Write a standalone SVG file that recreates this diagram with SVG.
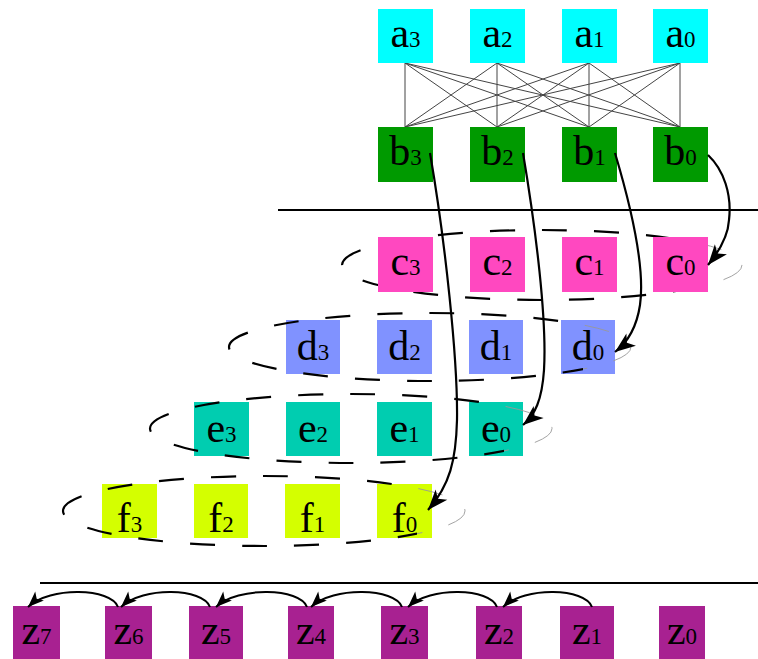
<svg xmlns="http://www.w3.org/2000/svg" width="758" height="659" viewBox="0 0 758 659">
  <style>
    .lbl { font-family: "Liberation Serif", "Times New Roman", serif; font-size: 42px; fill: #000; text-anchor: middle; }
    .sub { font-size: 23px; }
    .a { fill: #00ffff; }
    .b { fill: #009a00; }
    .c { fill: #ff48c0; }
    .d { fill: #8092ff; }
    .e { fill: #00cdb0; }
    .f { fill: #d4ff00; }
    .z { fill: #a82191; }
    .mesh { stroke: #444; stroke-width: 1; fill: none; }
    .rule { stroke: #000; stroke-width: 2; }
    .ring { fill: none; stroke-dasharray: 25 27; }
    .ring-near { stroke: #000; stroke-width: 2.2; }
    .ring-far { stroke: #999; stroke-width: 0.9; }
    .edge { fill: none; stroke: #000; stroke-width: 2.2; marker-end: url(#head); }
    .hop { fill: none; stroke: #000; stroke-width: 2; marker-end: url(#headSmall); }
  </style>
  <defs>
    <marker id="head" markerUnits="userSpaceOnUse" markerWidth="24" markerHeight="20" viewBox="-18 -8 20 16" refX="0" refY="0" orient="auto">
      <path d="M0,0 L-17,-6.5 L-12.5,0 L-17,6.5 Z" fill="#000"/>
    </marker>
    <marker id="headSmall" markerUnits="userSpaceOnUse" markerWidth="20" markerHeight="16" viewBox="-15 -7 17 14" refX="0" refY="0" orient="auto">
      <path d="M0,0 L-14,-5.5 L-10.5,0 L-14,5.5 Z" fill="#000"/>
    </marker>
    <clipPath id="nearC"><rect x="0" y="200" width="695" height="120"/></clipPath>
    <clipPath id="farC"><rect x="695" y="200" width="63" height="120"/></clipPath>
    <clipPath id="nearD"><rect x="0" y="300" width="583" height="100"/></clipPath>
    <clipPath id="farD"><rect x="583" y="300" width="175" height="100"/></clipPath>
    <clipPath id="nearE"><rect x="0" y="380" width="504" height="100"/></clipPath>
    <clipPath id="farE"><rect x="504" y="380" width="254" height="100"/></clipPath>
    <clipPath id="nearF"><rect x="0" y="460" width="417" height="100"/></clipPath>
    <clipPath id="farF"><rect x="417" y="460" width="341" height="100"/></clipPath>
    <path id="ringC" d="M342,265 A200,35 0 0 1 742,265 A200,35 0 0 1 342,265"/>
    <path id="ringD" d="M229,347 A201,34 0 0 1 631,347 A201,34 0 0 1 229,347"/>
    <path id="ringE" d="M150,428.5 A201,34.5 0 0 1 552,428.5 A201,34.5 0 0 1 150,428.5"/>
    <path id="ringF" d="M63,511 A201,35 0 0 1 465,511 A201,35 0 0 1 63,511"/>
  </defs>

  <rect width="758" height="659" fill="#fff"/>

  <!-- section rules -->
  <line class="rule" x1="278" y1="210" x2="758" y2="210"/>
  <line class="rule" x1="40" y1="583" x2="758" y2="583"/>

  <!-- full mesh between the a row and the b row -->
  <g id="mesh">
    <path class="mesh" d="M405,63 L405,127 M405,63 L497,127 M405,63 L589,127 M405,63 L680,127
      M497,63 L405,127 M497,63 L497,127 M497,63 L589,127 M497,63 L680,127
      M589,63 L405,127 M589,63 L497,127 M589,63 L589,127 M589,63 L680,127
      M680,63 L405,127 M680,63 L497,127 M680,63 L589,127 M680,63 L680,127"/>
  </g>

  <!-- ring around the c row sits behind its boxes -->
  <g id="ring-c">
    <use href="#ringC" class="ring ring-near" clip-path="url(#nearC)"/>
    <use href="#ringC" class="ring ring-far" clip-path="url(#farC)"/>
  </g>

  <g id="nodes">
    <g id="a3"><rect class="a" x="378" y="9" width="55" height="54"/><text class="lbl" x="405.5" y="47">a<tspan class="sub">3</tspan></text></g>
    <g id="a2"><rect class="a" x="470" y="9" width="55" height="54"/><text class="lbl" x="497.5" y="47">a<tspan class="sub">2</tspan></text></g>
    <g id="a1"><rect class="a" x="562" y="9" width="55" height="54"/><text class="lbl" x="589.5" y="47">a<tspan class="sub">1</tspan></text></g>
    <g id="a0"><rect class="a" x="653" y="9" width="55" height="54"/><text class="lbl" x="680.5" y="47">a<tspan class="sub">0</tspan></text></g>

    <g id="b3"><rect class="b" x="378" y="127" width="55" height="55"/><text class="lbl" x="405.5" y="165">b<tspan class="sub">3</tspan></text></g>
    <g id="b2"><rect class="b" x="470" y="127" width="55" height="55"/><text class="lbl" x="497.5" y="165">b<tspan class="sub">2</tspan></text></g>
    <g id="b1"><rect class="b" x="562" y="127" width="55" height="55"/><text class="lbl" x="589.5" y="165">b<tspan class="sub">1</tspan></text></g>
    <g id="b0"><rect class="b" x="653" y="127" width="55" height="55"/><text class="lbl" x="680.5" y="165">b<tspan class="sub">0</tspan></text></g>

    <g id="c3"><rect class="c" x="378" y="237" width="55" height="55"/><text class="lbl" x="405.5" y="275">c<tspan class="sub">3</tspan></text></g>
    <g id="c2"><rect class="c" x="470" y="237" width="55" height="55"/><text class="lbl" x="497.5" y="275">c<tspan class="sub">2</tspan></text></g>
    <g id="c1"><rect class="c" x="562" y="237" width="55" height="55"/><text class="lbl" x="589.5" y="275">c<tspan class="sub">1</tspan></text></g>
    <g id="c0"><rect class="c" x="653" y="237" width="55" height="55"/><text class="lbl" x="680.5" y="275">c<tspan class="sub">0</tspan></text></g>

    <g id="d3"><rect class="d" x="286" y="320" width="54" height="54"/><text class="lbl" x="313" y="360">d<tspan class="sub">3</tspan></text></g>
    <g id="d2"><rect class="d" x="377" y="320" width="55" height="54"/><text class="lbl" x="404.5" y="360">d<tspan class="sub">2</tspan></text></g>
    <g id="d1"><rect class="d" x="469" y="320" width="54" height="54"/><text class="lbl" x="496" y="360">d<tspan class="sub">1</tspan></text></g>
    <g id="d0"><rect class="d" x="561" y="320" width="54" height="54"/><text class="lbl" x="588" y="360">d<tspan class="sub">0</tspan></text></g>

    <g id="e3"><rect class="e" x="194" y="402" width="55" height="54"/><text class="lbl" x="221.5" y="442">e<tspan class="sub">3</tspan></text></g>
    <g id="e2"><rect class="e" x="286" y="402" width="54" height="54"/><text class="lbl" x="313" y="442">e<tspan class="sub">2</tspan></text></g>
    <g id="e1"><rect class="e" x="377" y="402" width="55" height="54"/><text class="lbl" x="404.5" y="442">e<tspan class="sub">1</tspan></text></g>
    <g id="e0"><rect class="e" x="469" y="402" width="54" height="54"/><text class="lbl" x="496" y="442">e<tspan class="sub">0</tspan></text></g>

    <g id="f3"><rect class="f" x="102" y="484" width="55" height="54"/><text class="lbl" x="129.5" y="532">f<tspan class="sub">3</tspan></text></g>
    <g id="f2"><rect class="f" x="194" y="484" width="54" height="54"/><text class="lbl" x="221" y="532">f<tspan class="sub">2</tspan></text></g>
    <g id="f1"><rect class="f" x="285" y="484" width="55" height="54"/><text class="lbl" x="312.5" y="532">f<tspan class="sub">1</tspan></text></g>
    <g id="f0"><rect class="f" x="377" y="484" width="55" height="54"/><text class="lbl" x="404.5" y="532">f<tspan class="sub">0</tspan></text></g>

    <g id="z7"><rect class="z" x="13" y="606" width="47" height="56"/><text class="lbl" x="36.5" y="644">z<tspan class="sub">7</tspan></text></g>
    <g id="z6"><rect class="z" x="105" y="606" width="47" height="56"/><text class="lbl" x="128.5" y="644">z<tspan class="sub">6</tspan></text></g>
    <g id="z5"><rect class="z" x="189" y="606" width="54" height="56"/><text class="lbl" x="216" y="644">z<tspan class="sub">5</tspan></text></g>
    <g id="z4"><rect class="z" x="288" y="606" width="46" height="56"/><text class="lbl" x="311" y="644">z<tspan class="sub">4</tspan></text></g>
    <g id="z3"><rect class="z" x="381" y="606" width="47" height="56"/><text class="lbl" x="404.5" y="644">z<tspan class="sub">3</tspan></text></g>
    <g id="z2"><rect class="z" x="476" y="606" width="46" height="56"/><text class="lbl" x="499" y="644">z<tspan class="sub">2</tspan></text></g>
    <g id="z1"><rect class="z" x="560" y="606" width="54" height="56"/><text class="lbl" x="587" y="644">z<tspan class="sub">1</tspan></text></g>
    <g id="z0"><rect class="z" x="659" y="606" width="46" height="56"/><text class="lbl" x="682" y="644">z<tspan class="sub">0</tspan></text></g>
  </g>

  <!-- rings around the d, e and f rows are drawn over their boxes -->
  <g id="rings">
    <use href="#ringD" class="ring ring-near" clip-path="url(#nearD)"/>
    <use href="#ringD" class="ring ring-far" clip-path="url(#farD)"/>
    <use href="#ringE" class="ring ring-near" clip-path="url(#nearE)"/>
    <use href="#ringE" class="ring ring-far" clip-path="url(#farE)"/>
    <use href="#ringF" class="ring ring-near" clip-path="url(#nearF)"/>
    <use href="#ringF" class="ring ring-far" clip-path="url(#farF)"/>
  </g>

  <g id="connectors">
    <!-- b column to the diagonal of rows c..f -->
    <path class="edge" d="M708,155 C724,170 732,195 729,220 C728,238 717,254 708,265"/>
    <path class="edge" d="M615,153 C632,210 645,270 640,305 C637,325 628,342 615,352"/>
    <path class="edge" d="M523,153 C536,230 547,320 544,370 C542,400 535,415 523,425"/>
    <path class="edge" d="M430,153 C445,240 458,360 457,420 C456,460 450,485 428,510"/>
    <!-- z chain hops -->
    <path class="hop" d="M592,607 C585,588 525,586 503,607"/>
    <path class="hop" d="M497,607 C490,588 430,586 408,607"/>
    <path class="hop" d="M402,607 C395,588 333,586 311,607"/>
    <path class="hop" d="M307,607 C300,588 238,586 216,607"/>
    <path class="hop" d="M210,607 C203,588 143,586 121,607"/>
    <path class="hop" d="M118,607 C111,588 50,586 28,607"/>
  </g>
</svg>
